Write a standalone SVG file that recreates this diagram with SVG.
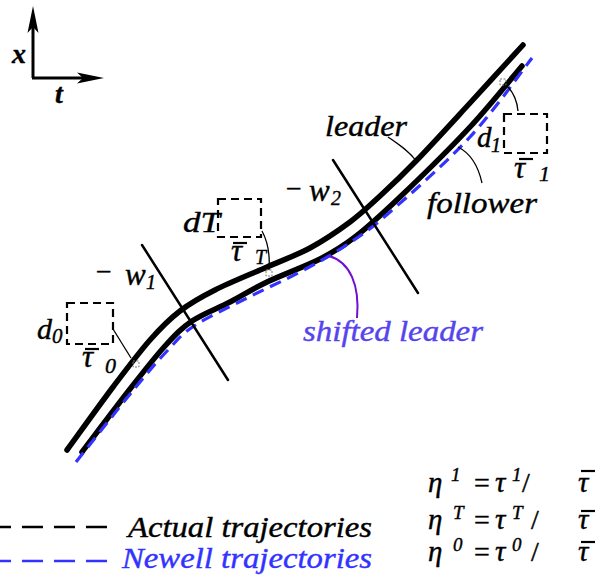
<svg xmlns="http://www.w3.org/2000/svg" width="613" height="576" viewBox="0 0 613 576">
<style>
.it{font-family:"Liberation Serif","Times New Roman",serif;font-style:italic;fill:#000;stroke:#000;stroke-width:0.4}
.rm{font-family:"Liberation Serif","Times New Roman",serif;fill:#000;stroke:#000;stroke-width:0.4}
.traj{fill:none;stroke:#000;stroke-width:5.5;stroke-linecap:round;stroke-linejoin:round}
.blue{fill:none;stroke:#3333ff;stroke-width:3.2;stroke-dasharray:12 7;stroke-linecap:butt}
.box{fill:none;stroke:#000;stroke-width:2.2;stroke-dasharray:8 5}
.pt{fill:none;stroke:#000;stroke-width:1.3}
.sq{fill:none;stroke:#777;stroke-width:1;stroke-dasharray:2 1.5}
.wl{stroke:#000;stroke-width:2.5;stroke-linecap:round}
.bar{stroke:#000;stroke-width:2.2}
</style>
<g id="axes">
<line x1="33" y1="78" x2="33" y2="20" stroke="#000" stroke-width="3"/>
<line x1="32" y1="78" x2="88" y2="78" stroke="#000" stroke-width="3"/>
<path d="M33,6 L38.5,33 L33,27 L27.5,33 Z" fill="#000"/>
<path d="M104,78 L77,72.5 L83,78 L77,83.5 Z" fill="#000"/>
<text class="it" x="12" y="63" font-size="28" font-weight="bold">x</text>
<text class="it" x="55" y="103" font-size="28" font-weight="bold">t</text>
</g>
<g id="connectors">
<path class="traj" d="M67,450 C74.7,439.5 99.2,405.3 113,387 C126.8,368.7 138.8,352.7 150,340 C161.2,327.3 169.2,319.3 180,311 C190.8,302.7 200.5,297.3 215,290 C229.5,282.7 251.2,274 267,267 C282.8,260 296.2,255.5 310,248 C323.8,240.5 338.3,230.7 350,222 C361.7,213.3 368.8,206.3 380,196 C391.2,185.7 402,175.5 417,160 C432,144.5 452.3,122.2 470,103 C487.7,83.8 514.2,54.7 523,45"/>
<path class="traj" d="M82,452 C90,441.5 116.2,406.7 130,389 C143.8,371.3 154.7,357.3 165,346 C175.3,334.7 181.2,328.3 192,321 C202.8,313.7 217.5,308.5 230,302 C242.5,295.5 252,289.2 267,282 C282,274.8 305.3,266.5 320,259 C334.7,251.5 341.7,247.3 355,237 C368.3,226.7 380.8,215.3 400,197 C419.2,178.7 449.7,148.8 470,127 C490.3,105.2 513.3,76.2 522,66"/>
<path class="blue" d="M76,462 C85.8,449.7 119.7,406.7 135,388 C150.3,369.3 158.2,360.3 168,350 C177.8,339.7 180.8,334.7 194,326 C207.2,317.3 229.3,307 247,298 C264.7,289 283.7,280.7 300,272 C316.3,263.3 330,256 345,246 C360,236 369.2,230.2 390,212 C410.8,193.8 446.3,162.7 470,137 C493.7,111.3 521.7,71.2 532,58"/>
<line class="wl" x1="142" y1="245" x2="228" y2="380"/>
<line class="wl" x1="333" y1="160" x2="418" y2="293"/>
<path class="pt" d="M388,137 C400,145 410,152 417,162"/>
<path class="pt" d="M482,183 C478,165 470,153 458,147"/>
<path class="pt" d="M518,111 C517,100 513,92 507,86"/>
<path class="pt" d="M262,231 C268,242 270,256 269,270"/>
<path class="pt" d="M113,329 L131,358"/>
<path d="M329,256 C350,262 360,285 357,318" fill="none" stroke="#7010d0" stroke-width="2"/>
</g>
<g id="markers">
<rect class="sq" x="500" y="79" width="6" height="6"/>
<rect class="sq" x="133" y="361" width="6" height="6"/>
<rect class="sq" x="266" y="270" width="6" height="6"/>
</g>
<g id="box-d1">
<rect class="box" x="504" y="114" width="43" height="39"/>
<text class="it" x="477" y="147" font-size="29">d</text>
<text class="it" x="491" y="152" font-size="20">1</text>
<line class="bar" x1="519" y1="159" x2="533" y2="159"/>
<text class="it" x="514" y="178" font-size="31">τ</text>
<text class="it" x="539" y="181" font-size="22">1</text>
</g>
<g id="box-dT">
<rect class="box" x="218" y="199" width="43" height="38"/>
<text class="it" x="183" y="232" font-size="30" textLength="37" lengthAdjust="spacingAndGlyphs">dT</text>
<line class="bar" x1="233" y1="243" x2="247" y2="243"/>
<text class="it" x="231" y="261" font-size="31">τ</text>
<text class="it" x="255" y="264" font-size="20">T</text>
</g>
<g id="box-d0">
<rect class="box" x="67" y="303" width="46" height="41"/>
<text class="it" x="37" y="339" font-size="30">d</text>
<text class="it" x="52" y="343" font-size="21">0</text>
<line class="bar" x1="85" y1="349" x2="99" y2="349"/>
<text class="it" x="82" y="367" font-size="31">τ</text>
<text class="it" x="105" y="373" font-size="22">0</text>
</g>
<g id="label-w1">
<text class="rm" x="96" y="281" font-size="28">−</text>
<text class="it" x="125" y="285" font-size="31">w</text>
<text class="it" x="146" y="289" font-size="20">1</text>
</g>
<g id="label-w2">
<text class="rm" x="286" y="198" font-size="28">−</text>
<text class="it" x="309" y="201" font-size="31">w</text>
<text class="it" x="331" y="205" font-size="20">2</text>
</g>
<g id="label-leader">
<text class="it" x="325" y="136" font-size="29" textLength="82" lengthAdjust="spacingAndGlyphs">leader</text>
</g>
<g id="label-follower">
<text class="it" x="427" y="213" font-size="30" textLength="110" lengthAdjust="spacingAndGlyphs">follower</text>
</g>
<g id="label-shifted">
<text class="it" x="303" y="341" font-size="30" textLength="180" lengthAdjust="spacingAndGlyphs" style="fill:#5544ee;stroke:#5544ee">shifted leader</text>
</g>
<g id="legend">
<line x1="0" y1="527" x2="110" y2="527" stroke="#000" stroke-width="2.5" stroke-dasharray="21 11" stroke-dashoffset="10"/>
<text class="it" x="128" y="537" font-size="30" textLength="244" lengthAdjust="spacingAndGlyphs">Actual trajectories</text>
<line x1="0" y1="561" x2="110" y2="561" stroke="#3333ff" stroke-width="2.5" stroke-dasharray="21 11" stroke-dashoffset="10"/>
<text class="it" x="122" y="568" font-size="30" textLength="250" lengthAdjust="spacingAndGlyphs" style="fill:#3333ff;stroke:#3333ff">Newell trajectories</text>
</g>
<g id="equations">
<text class="it" x="428" y="492" font-size="29">η</text>
<text class="it" x="451" y="481" font-size="19">1</text>
<text class="rm" x="474" y="492" font-size="28">=</text>
<text class="it" x="495" y="492" font-size="29">τ</text>
<text class="it" x="512" y="481" font-size="19">1</text>
<text class="rm" x="522" y="492" font-size="28">/</text>
<line class="bar" x1="581" y1="471" x2="595" y2="471"/>
<text class="it" x="578" y="492" font-size="29">τ</text>

<text class="it" x="428" y="529" font-size="29">η</text>
<text class="it" x="453" y="519" font-size="19">T</text>
<text class="rm" x="474" y="529" font-size="28">=</text>
<text class="it" x="495" y="529" font-size="29">τ</text>
<text class="it" x="512" y="519" font-size="19">T</text>
<text class="rm" x="531" y="529" font-size="28">/</text>
<line class="bar" x1="581" y1="511" x2="595" y2="511"/>
<text class="it" x="578" y="529" font-size="29">τ</text>

<text class="it" x="428" y="561" font-size="29">η</text>
<text class="it" x="453" y="551" font-size="19">0</text>
<text class="rm" x="474" y="561" font-size="28">=</text>
<text class="it" x="495" y="561" font-size="29">τ</text>
<text class="it" x="512" y="551" font-size="19">0</text>
<text class="rm" x="531" y="561" font-size="28">/</text>
<line class="bar" x1="581" y1="542" x2="595" y2="542"/>
<text class="it" x="578" y="561" font-size="29">τ</text>
</g>
</svg>
